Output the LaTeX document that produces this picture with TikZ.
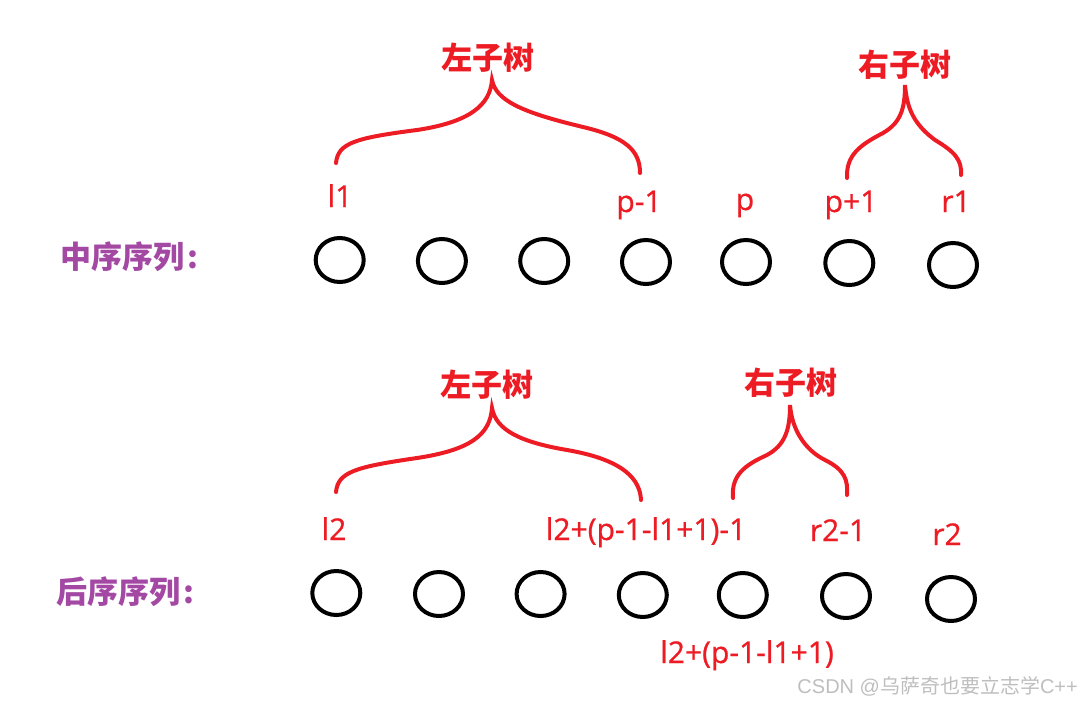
\documentclass[tikz,border=0pt]{standalone}
\usepackage{fontspec}
\setmainfont{Open Sans}
\newfontfamily\labfont[FakeBold=0.8]{Open Sans}
\newfontfamily\cjk{Noto Sans CJK SC}
\newfontfamily\wmfont{Liberation Sans}
\usetikzlibrary{shapes.geometric}
\definecolor{pred}{RGB}{237,28,36}
\definecolor{ppurple}{RGB}{163,73,164}
\definecolor{wmgray}{RGB}{190,190,190}
\begin{document}
\begin{tikzpicture}[x=1pt,y=-1pt,
  bead/.style={draw=black,line width=4pt,ellipse,minimum width=48pt,minimum height=44pt,inner sep=0pt},
  lab/.style={text=pred,font=\labfont\fontsize{30}{36}\selectfont,anchor=base,inner sep=0pt},
  tree/.style={text=pred,font=\cjk\bfseries\fontsize{31}{36}\selectfont,inner sep=0pt},
  seq/.style={text=ppurple,font=\cjk\bfseries\fontsize{31}{36}\selectfont,anchor=west,inner sep=0pt},
  brace/.style={draw=pred,line width=4pt,line cap=round}]
\useasboundingbox (0,0) rectangle (1081,702);
% sequence labels
\node[seq] (inlab) at (60,257) {中序序列\kern3pt:};
\node[seq] (postlab) at (56,592) {后序序列\kern3pt:};
% inorder beads
\node[bead] (a1) at (339.7,260) {};
\node[bead] (a2) at (441.9,261) {};
\node[bead] (a3) at (544.2,261) {};
\node[bead] (a4) at (646,262) {};
\node[bead] (a5) at (746,262) {};
\node[bead] (a6) at (849.3,263) {};
\node[bead] (a7) at (953,265) {};
% postorder beads
\node[bead] (b1) at (336.3,593) {};
\node[bead] (b2) at (439,594) {};
\node[bead] (b3) at (540.6,594) {};
\node[bead] (b4) at (642.8,595) {};
\node[bead] (b5) at (742.8,595) {};
\node[bead] (b6) at (846,596) {};
\node[bead] (b7) at (951,599) {};
% inorder index labels
\node[lab] (tl1) at (340,207) {l1};
\node[lab] (tp1) at (639,212) {p-1};
\node[lab] (tp) at (745,210) {p};
\node[lab] (tpp) at (851,212) {p+1};
\node[lab] (tr1) at (956,212) {r1};
% postorder index labels
\node[lab] (ul2) at (334,540) {l2};
\node[lab] (ulm) at (646,540) {l2+(p-1-l1+1)-1};
\node[lab] (ur21) at (838,541) {r2-1};
\node[lab] (ur2) at (947,545) {r2};
\node[lab] (ulp) at (747,663) {l2+(p-1-l1+1)};
% subtree titles
\node[tree] (ta) at (488,58) {左子树};
\node[tree] (tb) at (905,65) {右子树};
\node[tree] (tc) at (487,385) {左子树};
\node[tree] (td) at (791,383) {右子树};
% braces
\draw[brace] (336,163) .. controls (338,143) and (355,138) .. (417,130)
  .. controls (470,122) and (490,105) .. (492,80)
  .. controls (496,100) and (520,112) .. (583,127)
  .. controls (625,137) and (640,150) .. (640,173);
\draw[brace] (847,178) .. controls (846,155) and (860,145) .. (883,133)
  .. controls (900,123) and (905,110) .. (905,85)
  .. controls (907,110) and (915,125) .. (935,140)
  .. controls (955,152) and (962,160) .. (961,175);
\draw[brace] (336,492) .. controls (338,472) and (355,467) .. (417,458)
  .. controls (470,450) and (490,435) .. (492,408)
  .. controls (496,430) and (520,442) .. (567,450)
  .. controls (625,460) and (640,480) .. (641,500);
\draw[brace] (733,498) .. controls (731,475) and (745,465) .. (767,455)
  .. controls (785,445) and (790,430) .. (790,405)
  .. controls (792,430) and (805,450) .. (825,460)
  .. controls (845,470) and (848,480) .. (847,495);
% watermark
\node[text=wmgray,font=\cjk\fontsize{20}{22}\selectfont,anchor=base east,inner sep=0pt] (wm) at (1078,693) {{\wmfont CSDN @}乌萨奇也要立志学{\wmfont C++}};
\end{tikzpicture}
\end{document}
